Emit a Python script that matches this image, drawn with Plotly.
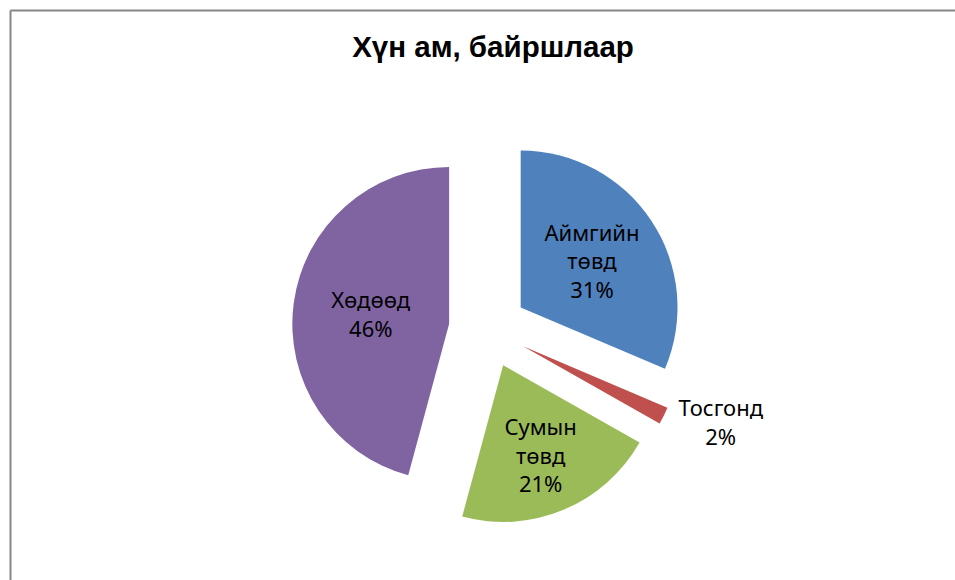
import plotly.graph_objects as go

# Хүн ам, байршлаар - population share by location
labels = ["Аймгийн төвд", "Тосгонд", "Сумын төвд", "Хөдөөд"]
label_lines = ["Аймгийн<br>төвд", "Тосгонд", "Сумын<br>төвд", "Хөдөөд"]
shares = [31.4, 1.8, 21.0, 45.8]
colours = ["#4F81BD", "#C0504D", "#9BBB59", "#8064A2"]

W, H = 955, 580
PULL = 0.25

# pie centre / size in pixels, converted to a paper domain
cx, cy, half = 488, 329, 196
dom_x = [(cx - half) / W, (cx + half) / W]
dom_y = [(H - cy - half) / H, (H - cy + half) / H]

fig = go.Figure()
fig.add_trace(go.Pie(
    labels=labels,
    values=shares,
    text=label_lines,
    texttemplate="%{text}<br>%{percent:.0%}",
    textposition=["inside", "outside", "inside", "inside"],
    insidetextorientation="horizontal",
    sort=False,
    direction="clockwise",
    rotation=0,
    pull=[PULL] * 4,
    marker=dict(colors=colours, line=dict(width=0)),
    textfont=dict(family="Noto Sans", size=22, color="black"),
    showlegend=False,
    hoverinfo="label+percent",
    domain=dict(x=dom_x, y=dom_y),
))

# chart-area frame: only the top and left edges fall inside the window
bx, by = 10.5 / W, 1 - 10.5 / H
frame = dict(color="#868686", width=2)

fig.update_layout(
    width=W, height=H,
    margin=dict(l=0, r=0, t=0, b=0, autoexpand=False),
    paper_bgcolor="white",
    title=dict(text="<b>Хүн ам, байршлаар</b>", x=493 / W, xanchor="center",
               y=1 - 47 / H, yanchor="middle",
               font=dict(family="Liberation Sans", size=29.5, color="black")),
    shapes=[
        dict(type="line", xref="paper", yref="paper", x0=bx, x1=1, y0=by, y1=by, line=frame),
        dict(type="line", xref="paper", yref="paper", x0=bx, x1=bx, y0=0, y1=by, line=frame),
    ],
)

# page has a default body margin; drop it so the figure sits at the window origin
fig.write_html("out.html", config={"displayModeBar": False},
               post_script="document.body.style.margin='0';")
